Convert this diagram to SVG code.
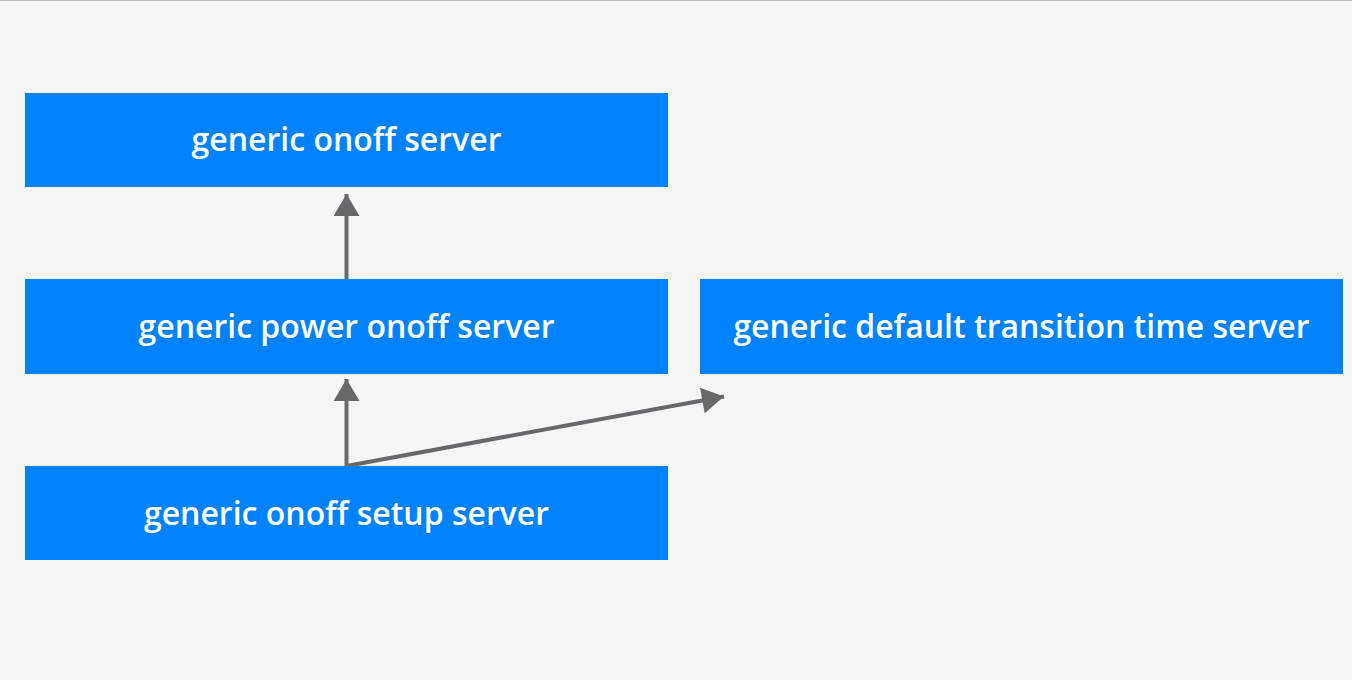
<svg xmlns="http://www.w3.org/2000/svg" width="1352" height="680" viewBox="0 0 1352 680">
<style>
.bg{fill:#f5f5f5}
.box{fill:#0082fc}
.lbl{fill:#ffffff;font-family:"Open Sans",Lato,sans-serif;font-weight:600;font-size:32px;text-anchor:middle}
.edge{stroke:#68686c;stroke-width:4;fill:none}
</style>
<defs>
<marker id="ah" markerUnits="userSpaceOnUse" markerWidth="26" markerHeight="26" refX="22" refY="13" orient="auto" viewBox="0 0 22 26">
<path d="M0,0 L22,13 L0,26 Z" fill="#68686c"/>
</marker>
</defs>
<rect class="bg" x="0" y="0" width="1352" height="680"/>
<rect x="0" y="0" width="1352" height="1" fill="#c0c0c0"/>
<g id="connectors">
<line class="edge" x1="346.5" y1="279" x2="346.5" y2="194" marker-end="url(#ah)"/>
<line class="edge" x1="346.5" y1="466" x2="346.5" y2="379" marker-end="url(#ah)"/>
<line class="edge" x1="346.5" y1="466" x2="724" y2="396.5" marker-end="url(#ah)"/>
</g>
<g id="n1"><rect class="box" x="25" y="93" width="643" height="94"/><text class="lbl" x="346.5" y="151">generic onoff server</text></g>
<g id="n2"><rect class="box" x="25" y="279" width="643" height="95"/><text class="lbl" x="346.5" y="338">generic power onoff server</text></g>
<g id="n3"><rect class="box" x="700" y="279" width="643" height="95"/><text class="lbl" x="1021.5" y="338">generic default transition time server</text></g>
<g id="n4"><rect class="box" x="25" y="466" width="643" height="94"/><text class="lbl" x="346.5" y="525">generic onoff setup server</text></g>
</svg>
